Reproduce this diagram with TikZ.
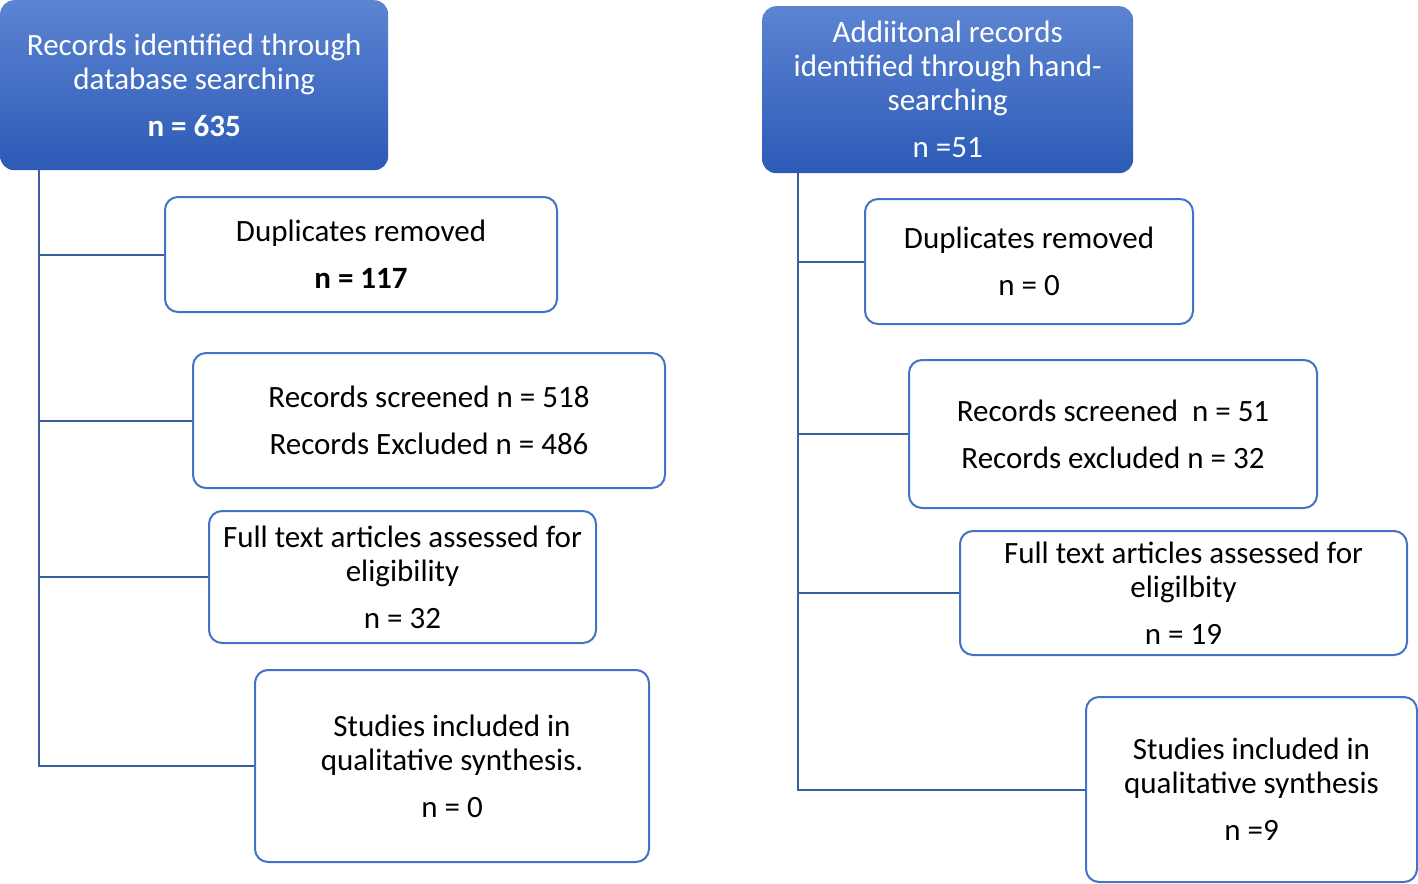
\documentclass[tikz,border=0pt]{standalone}
\usepackage{fontspec}
\setmainfont{Carlito}
\usetikzlibrary{positioning}
\definecolor{boxblue}{RGB}{68,114,196}
\definecolor{linkblue}{RGB}{58,94,158}
\definecolor{headtop}{RGB}{92,132,210}
\definecolor{headbot}{RGB}{44,90,182}
\tikzset{head/.style={rounded corners=14pt, top color=headtop, bottom color=headbot, text=white, align=center, inner sep=0pt, anchor=north west}}
\tikzstyle{box}=[draw=boxblue, line width=2pt, rounded corners=13pt, fill=white, align=center, inner sep=0pt, anchor=north west]
\tikzstyle{link}=[draw=linkblue, line width=2pt]

\begin{document}
\begin{tikzpicture}[x=1pt, y=-1pt, font=\fontsize{31}{34}\selectfont]
\useasboundingbox (0,0) rectangle (1418,883);
% left column
\node[head, minimum width=388pt, minimum height=170pt] (L0) at (0,0) {Records identified through\\database searching\\[13pt]\textbf{n = 635}};
\node[box, minimum width=392pt, minimum height=115pt] (L1) at (164,196) {Duplicates removed\\[13pt]\textbf{n = 117}};
\node[box, minimum width=472pt, minimum height=135pt] (L2) at (192,352) {Records screened n = 518\\[13pt]Records Excluded n = 486};
\node[box, minimum width=387pt, minimum height=132pt] (L3) at (208,510) {Full text articles assessed for\\eligibility\\[13pt]n = 32};
\node[box, minimum width=394pt, minimum height=192pt] (L4) at (254,669) {Studies included in\\qualitative synthesis.\\[13pt]n = 0};
% right column
\node[head, minimum width=371pt, minimum height=167pt] (R0) at (762,6) {Addiitonal records\\identified through hand-\\searching\\[13pt]n =51};
\node[box, minimum width=328pt, minimum height=125pt] (R1) at (864,198) {Duplicates removed\\[13pt]n = 0};
\node[box, minimum width=408pt, minimum height=148pt] (R2) at (908,359) {Records screened \ n = 51\\[13pt]Records excluded n = 32};
\node[box, minimum width=447pt, minimum height=124pt] (R3) at (959,530) {Full text articles assessed for\\eligilbity\\[13pt]n = 19};
\node[box, minimum width=331pt, minimum height=185pt] (R4) at (1085,696) {Studies included in\\qualitative synthesis\\[13pt]n =9};

\coordinate (lt) at (39,0);
\coordinate (rt) at (798,0);
\draw[link] (L0.south -| lt) |- (L4.west);
\draw[link] (R0.south -| rt) |- (R4.west);
\foreach \i in {1,2,3}{
  \draw[link] (lt |- L\i.west) -- (L\i.west);
  \draw[link] (rt |- R\i.west) -- (R\i.west);
}
\end{tikzpicture}
\end{document}
